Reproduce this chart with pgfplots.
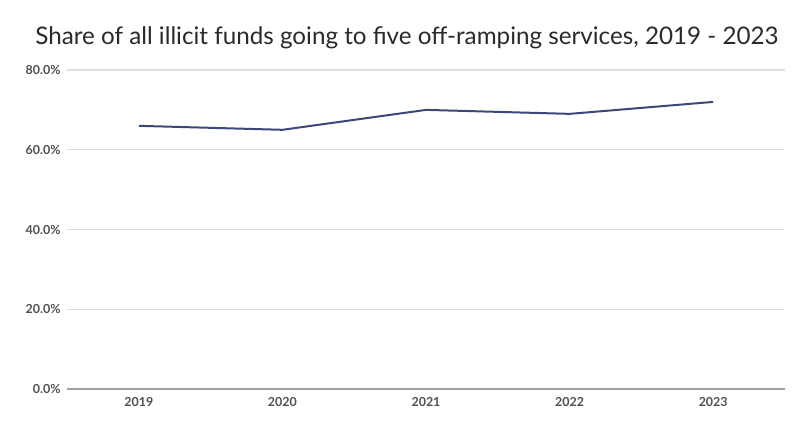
\documentclass[border=0pt]{standalone}
\usepackage{pgfplots}
\pgfplotsset{compat=1.18}
\usepackage{fontspec}
\setmainfont{Lato}
\definecolor{navy}{HTML}{3D4779}
\definecolor{gridgray}{HTML}{DEDEDE}
\definecolor{basegray}{HTML}{A0A0A0}
\definecolor{labgray}{HTML}{505050}
\definecolor{titlegray}{HTML}{2A2A2A}
\begin{document}
\begin{tikzpicture}[x=1bp,y=1bp]
\useasboundingbox (-67,-40) rectangle (733,389);
\node[anchor=base, text=titlegray, font=\fontsize{24.3}{28}\selectfont]
  at (340,345) {Share of all illicit funds going to five off-ramping services, 2019 - 2023};
\begin{axis}[
    at={(0,0)}, anchor=south west,
    scale only axis,
    width=718bp, height=319bp,
    xmin=-0.5, xmax=4.5,
    ymin=0, ymax=80,
    xtick={0,1,2,3,4},
    xticklabels={2019,2020,2021,2022,2023},
    ytick={0,20,40,60,80},
    yticklabel={\pgfmathprintnumber[fixed,fixed zerofill,precision=1]{\tick}\%},
    /pgf/number format/assume math mode=true,
    axis lines=left,
    axis line style={-},
    y axis line style={draw=none},
    x axis line style={draw=basegray, line width=1.2bp},
    major tick length=0pt,
    ymajorgrids,
    grid style={gridgray, line width=1.2bp},
    tick label style={text=labgray, font=\fontsize{12.5}{15}\selectfont\bfseries},
    yticklabel style={xshift=-3bp},
    xticklabel style={yshift=-5bp},
]
\addplot[navy, line width=2bp, mark=none] coordinates {
    (0, 66)
    (1, 65)
    (2, 70)
    (3, 69)
    (4, 72)
};
\end{axis}
\end{tikzpicture}
\end{document}
